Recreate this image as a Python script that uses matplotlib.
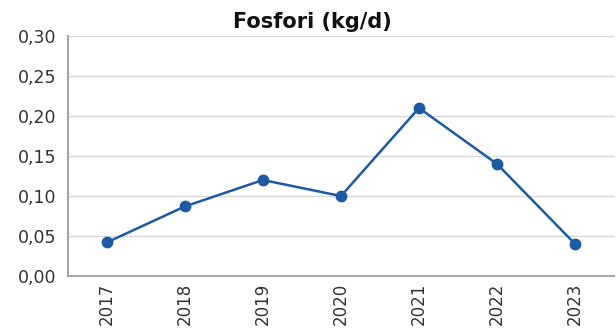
import matplotlib
matplotlib.use("Agg")
import matplotlib.pyplot as plt
from matplotlib.ticker import FuncFormatter, MultipleLocator

years = ["2017", "2018", "2019", "2020", "2021", "2022", "2023"]
fosfori = [0.042, 0.087, 0.12, 0.10, 0.21, 0.14, 0.04]
title = "Fosfori (kg/d)"

plt.rcParams["font.family"] = ["DejaVu Sans"]

fig = plt.figure(figsize=(6.16, 3.33), dpi=100)
ax = fig.add_axes([0.110, 0.171, 0.887, 0.721])

x = list(range(len(years)))
ax.plot(x, fosfori, color="#1c5aa3", linewidth=1.8, marker="o",
        markersize=7.5, zorder=3)

ax.set_xlim(-0.5, len(years) - 0.5)
ax.set_ylim(0, 0.30)
ax.yaxis.set_major_locator(MultipleLocator(0.05))
ax.yaxis.set_major_formatter(FuncFormatter(lambda v, _: f"{v:.2f}".replace(".", ",")))
ax.set_xticks(x)
ax.set_xticklabels(years, rotation=90)

ax.grid(axis="y", color="#d9d9d9", linewidth=1.0)
ax.set_axisbelow(True)
for side in ("top", "right"):
    ax.spines[side].set_visible(False)
for side in ("left", "bottom"):
    ax.spines[side].set_color("#a6a6a6")
    ax.spines[side].set_linewidth(1.5)
ax.tick_params(axis="y", length=0, labelsize=12.5, labelcolor="#333333", pad=8)
ax.tick_params(axis="x", length=0, labelsize=12, labelcolor="#333333", pad=5)

fig.text(0.507, 0.935, title, ha="center", va="center", fontsize=15,
         fontweight="bold", color="#111111")

fig.savefig("out.png", dpi=100)
